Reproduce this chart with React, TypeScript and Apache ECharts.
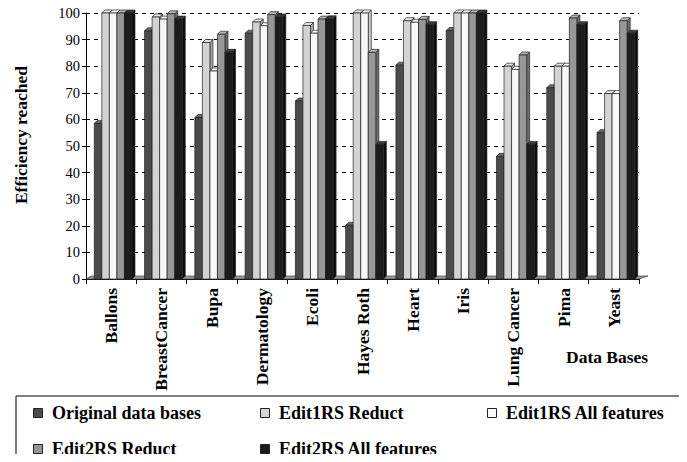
import React, { useEffect, useRef } from "react";
import * as echarts from "echarts";

const categories = ["Ballons", "BreastCancer", "Bupa", "Dermatology", "Ecoli", "Hayes Roth", "Heart", "Iris", "Lung Cancer", "Pima", "Yeast"];
const seriesNames = ["Original data bases", "Edit1RS Reduct", "Edit1RS All features", "Edit2RS Reduct", "Edit2RS All features"];
const originalData = [58.5, 93.3, 60.7, 92.4, 66.9, 20.2, 80.4, 93.4, 46.1, 71.9, 55];
const edit1Reduct = [100, 98.5, 88.9, 96.6, 95.3, 100, 97.1, 100, 80, 80, 69.7];
const edit1All = [100, 97.7, 78.2, 95.2, 92.4, 100, 96.5, 100, 78.8, 80, 69.7];
const edit2Reduct = [100, 99.7, 92, 99.4, 97.7, 85.2, 97.6, 100, 84.2, 98.1, 97.1];
const edit2All = [100, 97.7, 85.2, 98.5, 97.8, 50.6, 95.6, 100, 50.6, 95.6, 92.4];
const yTicks = { min: 0, max: 100, interval: 10 };

const allValues = [originalData, edit1Reduct, edit1All, edit2Reduct, edit2All];
const fills = ["#4b4b4b", "#d3d3d3", "#f8f8f8", "#979797", "#1c1c1c"];
const tops = ["#6a6a6a", "#e6e6e6", "#ffffff", "#b4b4b4", "#3a3a3a"];
const sides = ["#333333", "#a8a8a8", "#cfcfcf", "#6e6e6e", "#0d0d0d"];

const FONT = "'Liberation Serif', 'Times New Roman', serif";

export default function App() {
  const ref = useRef<HTMLDivElement>(null);
  useEffect(() => {
    if (!ref.current) return;
    const chart = echarts.init(ref.current, null, { renderer: "svg" });
    const D = 3;
    const barSeries = allValues.map((vals, si) => ({
      name: seriesNames[si],
      type: "custom",
      itemStyle: { color: fills[si] },
      data: vals.map((v, i) => [i, v]),
      z: 3,
      renderItem: (params: any, api: any) => {
        const cat = api.value(0);
        const val = api.value(1);
        const band = api.size([1, 0])[0];
        const top = api.coord([cat, val]);
        const base = api.coord([cat, 0]);
        const w = band * 0.15;
        const x0 = top[0] - (w * 5) / 2 + 2 + si * w;
        const y0 = top[1];
        const y1 = base[1];
        const stroke = "#222";
        return {
          type: "group",
          children: [
            {
              type: "polygon",
              shape: { points: [[x0 + w, y1], [x0 + w + D, y1 - D], [x0 + w + D, y0 - D], [x0 + w, y0]] },
              style: { fill: sides[si], stroke, lineWidth: 0.7 },
            },
            {
              type: "polygon",
              shape: { points: [[x0, y0], [x0 + D, y0 - D], [x0 + w + D, y0 - D], [x0 + w, y0]] },
              style: { fill: tops[si], stroke, lineWidth: 0.7 },
            },
            {
              type: "rect",
              shape: { x: x0, y: y0, width: w, height: y1 - y0 },
              style: { fill: fills[si], stroke, lineWidth: 0.7 },
            },
          ],
        };
      },
    }));
    const floorSeries = {
      name: "floor",
      type: "custom",
      silent: true,
      z: 2,
      data: [[0, 0]],
      renderItem: (params: any, api: any) => {
        const band = api.size([1, 0])[0];
        const a = api.coord([0, 0]);
        const b = api.coord([categories.length - 1, 0]);
        const xl = a[0] - band / 2;
        const xr = b[0] + band / 2;
        const y = a[1];
        return {
          type: "polygon",
          shape: { points: [[xl, y], [xl + D + 2, y - D], [xr + D + 6, y - D], [xr, y]] },
          style: { fill: "#9a9a9a", stroke: "#444", lineWidth: 0.7 },
        };
      },
    };
    const legendPos = [
      { left: 28, top: 399 },
      { left: 255, top: 399 },
      { left: 482, top: 399 },
      { left: 28, top: 435 },
      { left: 255, top: 435 },
    ];
    chart.setOption({
      animation: false,
      backgroundColor: "#ffffff",
      grid: { left: 86, right: 48, top: 13, bottom: 183 },
      xAxis: {
        type: "category",
        data: categories,
        axisLine: { show: true, lineStyle: { color: "#000", width: 1 } },
        axisTick: { show: true, length: 5, lineStyle: { color: "#000" } },
        axisLabel: {
          rotate: 90,
          margin: 9,
          color: "#000",
          fontFamily: FONT,
          fontWeight: "bold",
          fontSize: 17.5,
          interval: 0,
        },
      },
      yAxis: {
        type: "value",
        min: yTicks.min,
        max: yTicks.max,
        interval: yTicks.interval,
        axisLine: { show: true, lineStyle: { color: "#000", width: 1 } },
        axisTick: { show: true, length: 4, lineStyle: { color: "#000" } },
        axisLabel: { color: "#000", fontFamily: FONT, fontSize: 14.5, margin: 6 },
        splitLine: { show: true, lineStyle: { color: "#000", type: [4, 4], width: 1 } },
      },
      legend: legendPos.map((p, i) => ({
        data: [{ name: seriesNames[i], itemStyle: { color: fills[i], borderColor: "#222", borderWidth: 1 } }],
        left: p.left,
        top: p.top,
        icon: "rect",
        itemWidth: 9,
        itemHeight: 9,
        itemGap: 5,
        selectedMode: false,
        formatter: " {name}",
        textStyle: { fontFamily: FONT, fontWeight: "bold", fontSize: 18, color: "#000" },
      })),
      graphic: [
        {
          type: "rect",
          shape: { x: 16, y: 396, width: 667, height: 80 },
          style: { fill: "none", stroke: "#000", lineWidth: 1 },
          silent: true,
        },
        {
          type: "text",
          x: 566,
          y: 357,
          style: { text: "Data Bases", font: `bold 17.5px ${FONT}`, fill: "#000", verticalAlign: "middle" },
        },
        {
          type: "text",
          x: 21,
          y: 135,
          rotation: Math.PI / 2,
          style: {
            text: "Efficiency reached",
            font: `bold 17.5px ${FONT}`,
            fill: "#000",
            align: "center",
            verticalAlign: "middle",
          },
        },
      ],
      series: [floorSeries, ...barSeries],
    });
    return () => chart.dispose();
  }, []);
  return <div ref={ref} style={{ width: 687, height: 462, margin: -8 }} />;
}
